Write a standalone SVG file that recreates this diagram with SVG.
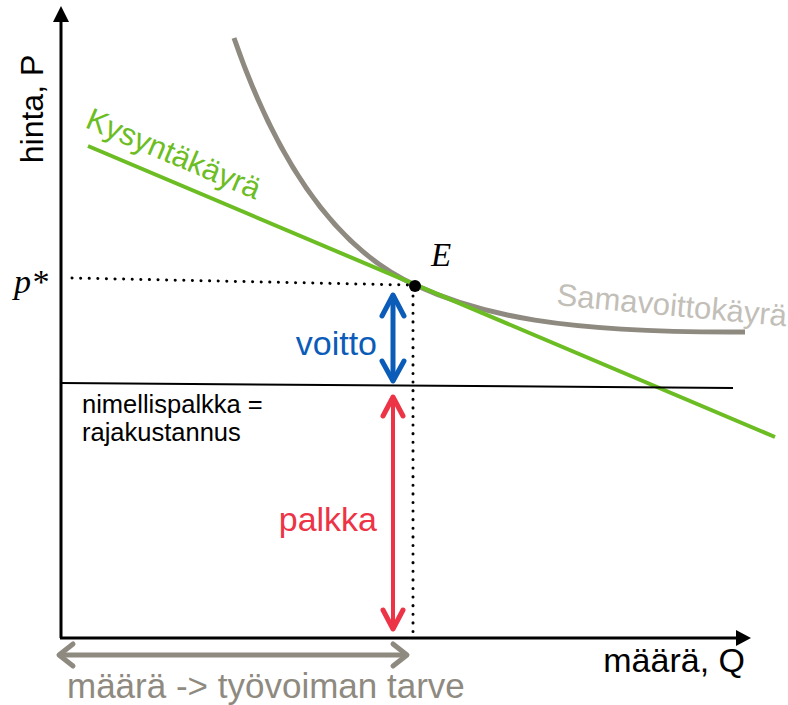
<svg xmlns="http://www.w3.org/2000/svg" width="788" height="705" viewBox="0 0 788 705">
<style>
.sans{font-family:"Liberation Sans",Arial,sans-serif}
.serif{font-family:"Liberation Serif","Times New Roman",serif;font-style:italic}
.dot{stroke:#000;stroke-width:3;stroke-dasharray:0.1 8.5;stroke-linecap:round;fill:none}
.chev{fill:none;stroke-linecap:round;stroke-linejoin:round}
</style>
<rect width="788" height="705" fill="#fff"/>
<g id="axes">
<line x1="61" y1="638" x2="61" y2="18" stroke="#000" stroke-width="3"/>
<polygon points="61,6 53,22 69,22" fill="#000"/>
<line x1="60" y1="638" x2="740" y2="638" stroke="#000" stroke-width="3"/>
<polygon points="751,638 736,630 736,646" fill="#000"/>
<text class="sans" font-size="32" transform="translate(43,109) rotate(-90)" text-anchor="middle">hinta, P</text>
<text class="sans" x="745" y="672" font-size="34" text-anchor="end">määrä, Q</text>
</g>
<g id="connectors">
<path d="M234,38 C290,200 360,260 415,285 C480,315 560,333 745,332" fill="none" stroke="#8f8a80" stroke-width="5"/>
<line x1="88" y1="146" x2="775" y2="437" stroke="#6cbd23" stroke-width="4"/>
<line x1="61" y1="383" x2="733" y2="388" stroke="#000" stroke-width="2"/>
<line class="dot" x1="72" y1="278" x2="408" y2="285"/>
<line class="dot" x1="413" y1="296" x2="413" y2="636"/>
</g>
<g id="E">
<circle cx="415" cy="286" r="6" fill="#000"/>
<text class="serif" x="431" y="266" font-size="33">E</text>
</g>
<g id="pstar">
<text class="serif" x="14" y="293" font-size="34">p*</text>
</g>
<g id="demand-label">
<text class="sans" font-size="31" fill="#6cbd23" transform="translate(84,127) rotate(23)">Kysyntäkäyrä</text>
</g>
<g id="iso-label">
<text class="sans" font-size="31" fill="#c2beb8" transform="translate(556,305) rotate(5.3)">Samavoittokäyrä</text>
</g>
<g id="voitto">
<line x1="393" y1="298" x2="393" y2="378" stroke="#0b5cb8" stroke-width="5"/>
<polyline class="chev" points="382,316 393,295 404,316" stroke="#0b5cb8" stroke-width="5"/>
<polyline class="chev" points="382,361 393,381 404,361" stroke="#0b5cb8" stroke-width="5"/>
<text class="sans" x="377" y="355" font-size="34" fill="#0b5cb8" text-anchor="end">voitto</text>
</g>
<g id="palkka">
<line x1="393" y1="400" x2="393" y2="626" stroke="#ec3446" stroke-width="4"/>
<polyline class="chev" points="383,416 393,397 403,416" stroke="#ec3446" stroke-width="5"/>
<polyline class="chev" points="383,610 393,629 403,610" stroke="#ec3446" stroke-width="5"/>
<text class="sans" x="377" y="531" font-size="34" fill="#ec3446" text-anchor="end">palkka</text>
</g>
<g id="wage-label">
<text class="sans" x="82" y="413" font-size="25.5">nimellispalkka =</text>
<text class="sans" x="82" y="441" font-size="25.5">rajakustannus</text>
</g>
<g id="labour">
<line x1="62" y1="655" x2="404" y2="655" stroke="#8f8a80" stroke-width="5"/>
<polyline class="chev" points="73,644 59,655 73,666" stroke="#8f8a80" stroke-width="5"/>
<polyline class="chev" points="393,644 407,655 393,666" stroke="#8f8a80" stroke-width="5"/>
<text class="sans" x="67" y="698" font-size="35" fill="#8f8a80">määrä -&gt; työvoiman tarve</text>
</g>
</svg>
